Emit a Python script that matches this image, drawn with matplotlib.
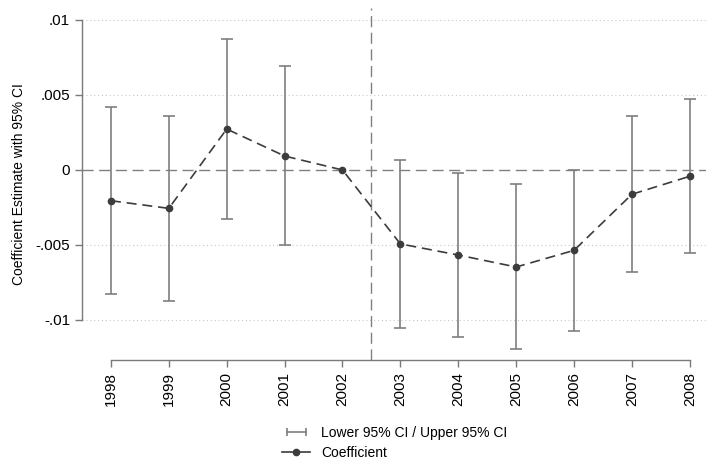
import matplotlib
matplotlib.use('Agg')
import matplotlib.pyplot as plt
from matplotlib.lines import Line2D
from matplotlib.legend_handler import HandlerLine2D
import numpy as np

plt.rcParams['font.family'] = ['Liberation Sans', 'DejaVu Sans']

years = [1998, 1999, 2000, 2001, 2002, 2003, 2004, 2005, 2006, 2007, 2008]
coef = [-0.00205, -0.00256, 0.00273, 0.00093, 0.0, -0.00493, -0.00567, -0.00647, -0.00536, -0.00162, -0.00042]
ci_upper = [0.00418, 0.00362, 0.00873, 0.00691, 0.0, 0.00067, -0.00022, -0.00096, 0.0, 0.00358, 0.00471]
ci_lower = [-0.00824, -0.00871, -0.00327, -0.00502, 0.0, -0.01056, -0.01111, -0.01193, -0.01071, -0.0068, -0.00551]
yticks = [0.01, 0.005, 0, -0.005, -0.01]
ytick_labels = ['.01', '.005', '0', '-.005', '-.01']

ci_color = '#7f7f7f'
line_color = '#3c3c3c'

fig = plt.figure(figsize=(7.07, 4.62), dpi=100)
W, H = 707, 462
ax = fig.add_axes([82 / W, 1 - 360 / H, (706 - 82) / W, (360 - 8) / H])

x = np.array(years, dtype=float)
c = np.array(coef)
lo = np.array(ci_lower)
hi = np.array(ci_upper)

# grid and reference lines
for yv in [0.01, 0.005, -0.005, -0.01]:
    ax.axhline(yv, color='#c8c8c8', lw=0.8, ls=(0, (1, 2.5)), zorder=0)
ax.axhline(0, color='#808080', lw=1.0, ls=(0, (8, 4)), zorder=1)
ax.axvline(2002.5, color='#808080', lw=1.0, ls=(0, (8, 4)), zorder=1)

# 2002 is the base year: no interval
has_ci = hi != lo
ax.errorbar(x[has_ci], c[has_ci], yerr=[c[has_ci] - lo[has_ci], hi[has_ci] - c[has_ci]],
            fmt='none', ecolor=ci_color, elinewidth=1.2, capsize=4, capthick=1.2, zorder=2)
ax.plot(x, c, color=line_color, ls=(0, (6, 3.5)), lw=1.2, marker='o', ms=4.5,
        markerfacecolor=line_color, markeredgecolor=line_color, zorder=3)

ax.set_xlim(1997.5, 2008.28)
ax.set_ylim(-0.01267, 0.0108)
ax.set_xticks(years)
ax.set_xticklabels([str(y) for y in years], rotation=90, fontsize=11)
ax.set_yticks(yticks)
ax.set_yticklabels(ytick_labels, fontsize=11)
ax.set_ylabel('Coefficient Estimate with 95% CI', fontsize=10, labelpad=7)

for side in ['top', 'right']:
    ax.spines[side].set_visible(False)
ax.spines['left'].set_bounds(-0.01, 0.01)
ax.spines['bottom'].set_bounds(1998, 2008)
for side in ['left', 'bottom']:
    ax.spines[side].set_color('#7a7a7a')
    ax.spines[side].set_linewidth(1.0)
ax.tick_params(axis='both', colors='#7a7a7a', labelcolor='black', length=5, width=1.0)

# legend keys: capped line for the CI, solid line with dot for the estimate
h_ci = Line2D([], [], color=ci_color, lw=1.2, marker='|', ms=6, mew=1.2)
h_pt = Line2D([], [], color=line_color, lw=1.2, marker='o', ms=4.5)
fig.legend([h_ci, h_pt], ['Lower 95% CI / Upper 95% CI', 'Coefficient'],
           handler_map={h_ci: HandlerLine2D(numpoints=2), h_pt: HandlerLine2D(numpoints=1)},
           loc='center', bbox_to_anchor=(395 / W, 1 - 443 / H), frameon=False,
           fontsize=10, handlelength=2.0, labelspacing=0.45, handletextpad=0.8)

fig.savefig('out.png', dpi=100)
